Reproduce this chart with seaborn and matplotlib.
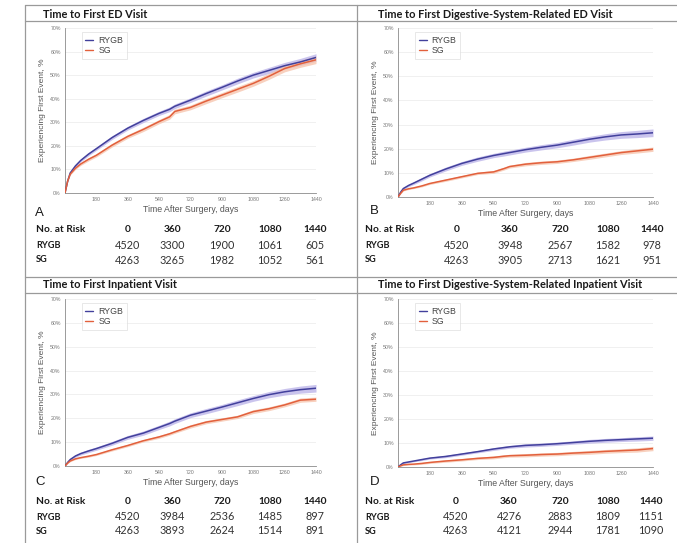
import matplotlib
matplotlib.use("Agg")
import matplotlib.pyplot as plt
import matplotlib.lines as mlines
import seaborn as sns
import pandas as pd
import numpy as np

# ---------------- data ----------------
days = [0, 15, 30, 60, 90, 135, 180, 270, 360, 450, 540, 600, 630, 720,
        810, 900, 990, 1080, 1170, 1260, 1350, 1440]

a_rygb = [0, 5.0, 8.5, 11.5, 13.8, 16.5, 18.8, 23.5, 27.5, 30.8, 33.8, 35.5, 36.8, 39.4,
          42.2, 44.8, 47.5, 50.0, 52.0, 54.0, 55.6, 57.5]
a_sg = [0, 5.0, 8.0, 10.5, 12.3, 14.3, 16.0, 20.3, 24.0, 27.0, 30.3, 32.3, 34.6, 36.3,
        39.0, 41.5, 44.0, 46.5, 49.5, 52.8, 54.8, 56.5]
b_rygb = [0, 2.0, 3.5, 4.8, 5.8, 7.4, 9.0, 11.6, 13.9, 15.7, 17.2, 18.0, 18.4, 19.6,
          20.6, 21.5, 22.7, 23.9, 24.9, 25.7, 26.1, 26.6]
b_sg = [0, 1.5, 2.8, 3.4, 3.8, 4.6, 5.6, 7.0, 8.4, 9.8, 10.4, 11.8, 12.6, 13.6,
        14.2, 14.6, 15.4, 16.4, 17.4, 18.4, 19.1, 19.8]
c_rygb = [0, 1.5, 2.7, 4.2, 5.2, 6.3, 7.3, 9.5, 12.0, 13.8, 16.2, 17.8, 18.8, 21.3,
          23.0, 24.7, 26.5, 28.3, 29.9, 31.1, 32.0, 32.6]
c_sg = [0, 1.2, 2.1, 3.0, 3.5, 4.1, 4.8, 6.8, 8.6, 10.6, 12.2, 13.5, 14.3, 16.6,
        18.4, 19.5, 20.6, 22.8, 24.0, 25.6, 27.6, 28.0]
d_rygb = [0, 0.9, 1.7, 2.1, 2.5, 3.1, 3.7, 4.4, 5.4, 6.4, 7.5, 8.1, 8.4, 9.0,
          9.3, 9.7, 10.2, 10.7, 11.1, 11.4, 11.7, 12.0]
d_sg = [0, 0.5, 0.9, 1.1, 1.2, 1.5, 1.9, 2.5, 3.0, 3.6, 4.0, 4.5, 4.7, 4.9,
        5.2, 5.4, 5.8, 6.1, 6.5, 6.8, 7.1, 7.7]

# 95% CI half-widths (percentage points)
ci_wide = [0, 0.3, 0.4, 0.5, 0.6, 0.7, 0.7, 0.8, 0.8, 0.9, 0.9, 1.0, 1.0, 1.0,
           1.1, 1.1, 1.2, 1.2, 1.3, 1.4, 1.5, 1.6]
ci_narrow = [0, 0.2, 0.3, 0.3, 0.3, 0.4, 0.4, 0.5, 0.5, 0.5, 0.6, 0.6, 0.6, 0.7,
             0.7, 0.7, 0.7, 0.8, 0.8, 0.8, 0.9, 0.9]

titles = ["Time to First ED Visit",
          "Time to First Digestive-System-Related ED Visit",
          "Time to First Inpatient Visit",
          "Time to First Digestive-System-Related Inpatient Visit"]
letters = ["A", "B", "C", "D"]
risk_days = ["0", "360", "720", "1080", "1440"]
risk_rygb = [[4520, 3300, 1900, 1061, 605],
             [4520, 3948, 2567, 1582, 978],
             [4520, 3984, 2536, 1485, 897],
             [4520, 4276, 2883, 1809, 1151]]
risk_sg = [[4263, 3265, 1982, 1052, 561],
           [4263, 3905, 2713, 1621, 951],
           [4263, 3893, 2624, 1514, 891],
           [4263, 4121, 2944, 1781, 1090]]
groups = ["RYGB", "SG"]
xticks = [180, 360, 540, 720, 900, 1080, 1260, 1440]
yticks = [0, 10, 20, 30, 40, 50, 60, 70]

series = [(a_rygb, a_sg, ci_wide, ci_wide),
          (b_rygb, b_sg, ci_wide, ci_narrow),
          (c_rygb, c_sg, ci_wide, ci_narrow),
          (d_rygb, d_sg, ci_narrow, ci_narrow)]

# ---------------- styling ----------------
sns.set_theme(style="white")
plt.rcParams['font.family'] = ['Liberation Sans', 'DejaVu Sans']

line_col = {"RYGB": "#42409c", "SG": "#e2603c"}
band_col = {"RYGB": "#b9b1e8", "SG": "#f6c2aa"}
frame_col = "#9a9a9a"

W, H = 677, 543
fig = plt.figure(figsize=(W / 100, H / 100), dpi=100)
fig.patch.set_facecolor("white")

def fx(px):
    return px / W

def fy(py):
    return 1 - py / H

# frame lines
frame = fig.add_axes([0, 0, 1, 1], zorder=-1)
frame.set_xlim(0, W)
frame.set_ylim(H, 0)
frame.axis("off")
for yy in [5, 21, 277, 293]:
    frame.plot([25, W], [yy, yy], color=frame_col, lw=0.9)
for xx in [25, 357]:
    frame.plot([xx, xx], [5, H], color=frame_col, lw=0.9)

# panel geometry in pixels: left, right, top, bottom
geo = [(65, 316, 28, 193), (398, 653, 28, 197), (65, 316, 299, 466), (398, 653, 299, 467)]
title_pos = [(43, 14), (378, 14), (43, 285), (378, 285)]
letter_pos = [(35, 213), (370, 211), (35, 482), (370, 482)]
table_x = [(36, [128, 172, 222, 270, 315]), (365, [457, 510, 560, 608, 652]),
           (36, [128, 172, 222, 270, 315]), (365, [456, 509, 560, 608, 651])]
table_y = [(230, 245, 260), (230, 245, 260), (502, 517, 531), (502, 517, 531)]

for i in range(4):
    l, r, t, b = geo[i]
    ax = fig.add_axes([fx(l), fy(b), fx(r - l), (b - t) / H])
    ry, sg, ci_r, ci_s = series[i]
    df = pd.DataFrame({
        "days": days * 2,
        "pct": ry + sg,
        "group": ["RYGB"] * len(days) + ["SG"] * len(days),
    })
    for g, vals, ci in [("RYGB", ry, ci_r), ("SG", sg, ci_s)]:
        v = np.array(vals)
        c = np.array(ci)
        ax.fill_between(days, v - c, v + c, color=band_col[g], alpha=0.75, lw=0, zorder=1)
    sns.lineplot(data=df, x="days", y="pct", hue="group", palette=line_col,
                 ax=ax, lw=1.1, legend=False, zorder=3)
    ax.set_xlim(0, 1440)
    ax.set_ylim(0, 70)
    ax.set_xticks(xticks)
    ax.set_yticks(yticks)
    ax.set_xticklabels([str(x) for x in xticks])
    ax.set_yticklabels([f"{y}%" for y in yticks])
    ax.tick_params(axis="both", labelsize=3.8, colors="#777777", length=1.5, width=0.5, pad=1.5)
    ax.grid(axis="y", color="#eeeeee", lw=0.6)
    ax.set_axisbelow(True)
    for s in ["top", "right"]:
        ax.spines[s].set_visible(False)
    for s in ["left", "bottom"]:
        ax.spines[s].set_color("#8a8a8a")
        ax.spines[s].set_linewidth(0.6)
    ax.set_xlabel("Time After Surgery, days", fontsize=6.3, color="#555555", labelpad=2)
    ax.set_ylabel("Experiencing First Event, %", fontsize=6.0, color="#555555", labelpad=3)
    handles = [mlines.Line2D([], [], color=line_col[g], lw=1.0) for g in groups]
    leg = ax.legend(handles, groups, loc="upper left", bbox_to_anchor=(0.05, 1.0),
                    fontsize=6.3, handlelength=0.9, handletextpad=0.6,
                    borderpad=0.4, labelspacing=0.15, frameon=True, fancybox=False)
    leg.get_frame().set_edgecolor("#dddddd")
    leg.get_frame().set_linewidth(0.6)
    for txt in leg.get_texts():
        txt.set_color("#444444")

    # titles and letters
    tx, ty = title_pos[i]
    fig.text(fx(tx), fy(ty), titles[i], fontsize=7.9, fontweight="bold",
             family=["Lato", "DejaVu Sans"], ha="left", va="center", color="#1a1a1a")
    lx, ly = letter_pos[i]
    fig.text(fx(lx), fy(ly), letters[i], fontsize=9.5, ha="left", va="center", color="#1a1a1a")

    # risk table
    x0, cols = table_x[i]
    y_h, y_r, y_s = table_y[i]
    fig.text(fx(x0), fy(y_h), "No. at Risk", fontsize=7.3, fontweight="bold",
             family=["Lato", "DejaVu Sans"], ha="left", va="center", color="#1a1a1a")
    fig.text(fx(x0), fy(y_r), "RYGB", fontsize=6.6, fontweight="bold",
             family=["Lato", "DejaVu Sans"], ha="left", va="center", color="#1a1a1a")
    fig.text(fx(x0), fy(y_s), "SG", fontsize=6.6, fontweight="bold",
             family=["Lato", "DejaVu Sans"], ha="left", va="center", color="#1a1a1a")
    for j, cx in enumerate(cols):
        fig.text(fx(cx), fy(y_h), risk_days[j], fontsize=7.3, fontweight="bold",
                 family=["Lato", "DejaVu Sans"], ha="center", va="center", color="#1a1a1a")
        fig.text(fx(cx), fy(y_r), str(risk_rygb[i][j]), fontsize=7.8,
                 family=["Lato", "DejaVu Sans"], ha="center", va="center", color="#333333")
        fig.text(fx(cx), fy(y_s), str(risk_sg[i][j]), fontsize=7.8,
                 family=["Lato", "DejaVu Sans"], ha="center", va="center", color="#333333")

fig.savefig("out.png", dpi=100, facecolor="white")
